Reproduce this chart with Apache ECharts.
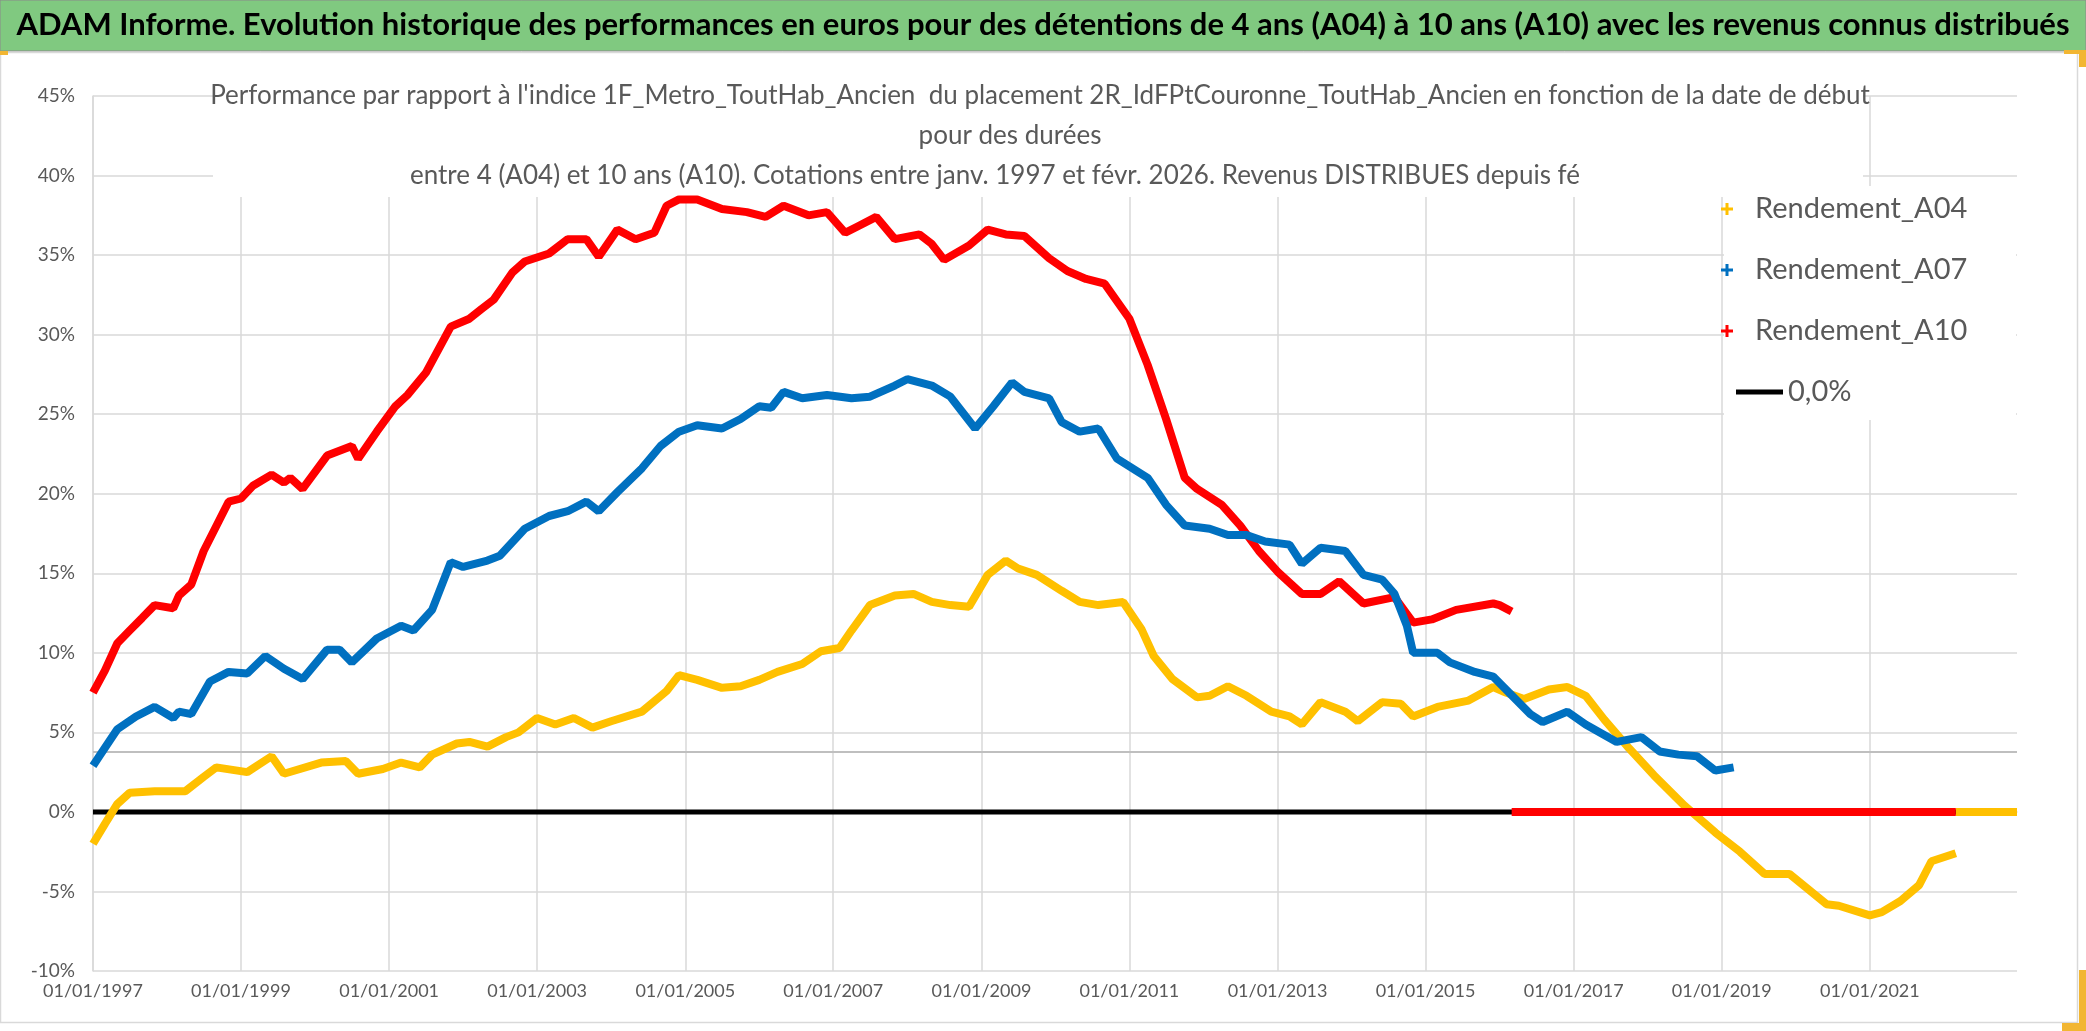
<!DOCTYPE html>
<html><head><meta charset="utf-8">
<script src="https://cdn.jsdelivr.net/npm/echarts@6/dist/echarts.min.js"></script>
<style>html,body{margin:0;padding:0;background:#fff;overflow:hidden}#c{width:2086px;height:1031px}</style>
</head><body><div id="c"></div>
<script>
const mainTitle = "ADAM Informe. Evolution historique des performances en euros pour des détentions de 4 ans (A04) à 10 ans (A10) avec les revenus connus distribués";
const subTitle1 = "Performance par rapport à l'indice 1F_Metro_ToutHab_Ancien  du placement 2R_IdFPtCouronne_ToutHab_Ancien en fonction de la date de début";
const subTitle2 = "pour des durées";
const subTitle3 = "entre 4 (A04) et 10 ans (A10). Cotations entre janv. 1997 et févr. 2026. Revenus DISTRIBUES depuis fé";

const seriesNames = ['Rendement_A04', 'Rendement_A07', 'Rendement_A10', '0,0%'];
const xTickLabels = ['01/01/1997','01/01/1999','01/01/2001','01/01/2003','01/01/2005','01/01/2007','01/01/2009','01/01/2011','01/01/2013','01/01/2015','01/01/2017','01/01/2019','01/01/2021'];
const xMin = '1997-01-01';
const xMax = '2022-12-28';

const datesA04 = ['1997-01','1997-03','1997-05','1997-07','1997-11','1998-04','1998-07','1998-09','1999-02','1999-06','1999-08','2000-02','2000-06','2000-08','2000-12','2001-03','2001-06','2001-08','2001-12','2002-02','2002-05','2002-08','2002-10','2003-01','2003-04','2003-07','2003-10','2004-01','2004-06','2004-10','2004-12','2005-03','2005-07','2005-10','2006-01','2006-04','2006-08','2006-11','2007-02','2007-04','2007-07','2007-11','2008-02','2008-05','2008-08','2008-11','2009-02','2009-05','2009-07','2009-10','2010-02','2010-05','2010-08','2010-12','2011-03','2011-05','2011-08','2011-12','2012-02','2012-05','2012-08','2012-12','2013-03','2013-05','2013-08','2013-12','2014-02','2014-06','2014-09','2014-11','2015-03','2015-08','2015-12','2016-02','2016-05','2016-09','2016-12','2017-03','2017-06','2017-10','2018-02','2018-07','2018-12','2019-04','2019-08','2019-12','2020-06','2020-08','2021-01','2021-03','2021-06','2021-09','2021-11','2022-03','2022-03','2022-03','2022-12-28'];
const valuesA04 = [-2.0,-0.75,0.5,1.2,1.3,1.3,2.2,2.8,2.5,3.5,2.4,3.1,3.2,2.4,2.7,3.1,2.8,3.6,4.3,4.4,4.1,4.7,5.0,5.9,5.5,5.9,5.3,5.7,6.3,7.6,8.6,8.3,7.8,7.9,8.3,8.8,9.3,10.1,10.3,11.4,13.0,13.6,13.7,13.2,13.0,12.9,14.9,15.8,15.3,14.9,13.9,13.2,13.0,13.2,11.5,9.8,8.35,7.2,7.3,7.9,7.3,6.3,6.0,5.5,6.9,6.3,5.7,6.9,6.8,6.0,6.6,7.0,7.85,7.5,7.1,7.7,7.85,7.3,5.8,4.0,2.3,0.4,-1.3,-2.5,-3.9,-3.9,-5.8,-5.9,-6.5,-6.3,-5.6,-4.6,-3.1,-2.6,null,0,0];

const datesA07 = ['1997-01','1997-02','1997-05','1997-08','1997-11','1998-02','1998-03','1998-05','1998-08','1998-11','1999-02','1999-05','1999-08','1999-11','2000-03','2000-05','2000-07','2000-11','2001-03','2001-05','2001-08','2001-11','2002-01','2002-05','2002-07','2002-11','2003-03','2003-06','2003-09','2003-11','2004-02','2004-06','2004-09','2004-12','2005-03','2005-07','2005-10','2006-01','2006-03','2006-05','2006-08','2006-12','2007-04','2007-07','2007-11','2008-01','2008-05','2008-08','2008-12','2009-03','2009-06','2009-08','2009-12','2010-02','2010-05','2010-08','2010-11','2011-04','2011-07','2011-10','2012-02','2012-05','2012-08','2012-11','2013-03','2013-05','2013-08','2013-12','2014-03','2014-06','2014-08','2014-10','2014-11','2015-03','2015-05','2015-09','2015-12','2016-06','2016-08','2016-12','2017-03','2017-08','2017-12','2018-03','2018-06','2018-09','2018-12','2019-03'];
const valuesA07 = [2.9,3.5,5.2,6.0,6.6,5.9,6.3,6.15,8.2,8.8,8.7,9.8,9.0,8.35,10.2,10.2,9.4,10.9,11.7,11.4,12.7,15.7,15.4,15.8,16.1,17.8,18.6,18.9,19.5,18.9,20.1,21.6,23.0,23.9,24.3,24.1,24.7,25.5,25.4,26.4,26.0,26.2,26.0,26.1,26.8,27.2,26.8,26.1,24.1,25.5,27.0,26.4,26.0,24.5,23.9,24.1,22.2,21.0,19.3,18.0,17.8,17.4,17.4,17.0,16.8,15.6,16.6,16.4,14.9,14.6,13.7,11.7,10.0,10.0,9.4,8.8,8.5,6.15,5.65,6.3,5.5,4.4,4.7,3.8,3.6,3.5,2.6,2.8];

const datesA10 = ['1997-01','1997-03','1997-05','1997-07','1997-09','1997-11','1998-02','1998-03','1998-05','1998-07','1998-11','1999-01','1999-03','1999-06','1999-08','1999-09','1999-11','2000-03','2000-07','2000-08','2000-11','2001-02','2001-04','2001-07','2001-11','2002-02','2002-04','2002-06','2002-09','2002-11','2003-03','2003-06','2003-09','2003-11','2004-02','2004-05','2004-08','2004-10','2004-12','2005-03','2005-07','2005-11','2006-02','2006-05','2006-09','2006-12','2007-03','2007-05','2007-08','2007-11','2008-03','2008-05','2008-07','2008-11','2009-02','2009-05','2009-08','2009-12','2010-03','2010-06','2010-09','2011-01','2011-04','2011-07','2011-10','2011-12','2012-04','2012-07','2012-10','2013-01','2013-05','2013-08','2013-11','2014-03','2014-08','2014-11','2015-02','2015-06','2015-12','2016-01','2016-03','2016-03','2016-03','2022-03'];
const valuesA10 = [7.5,8.9,10.6,11.4,12.2,13.0,12.8,13.6,14.3,16.4,19.5,19.7,20.5,21.2,20.7,21.0,20.3,22.4,23.0,22.2,23.9,25.5,26.2,27.6,30.5,31.0,31.6,32.2,33.9,34.6,35.1,36.0,36.0,34.9,36.6,36.0,36.4,38.1,38.5,38.5,37.9,37.7,37.4,38.1,37.5,37.7,36.4,36.8,37.4,36.0,36.3,35.7,34.7,35.6,36.6,36.3,36.2,34.8,34.0,33.5,33.2,31.0,28.1,24.7,21.0,20.3,19.3,18.0,16.4,15.1,13.7,13.7,14.5,13.1,13.5,11.9,12.1,12.7,13.1,13.0,12.6,null,0,0];

const datesZero = ['1997-01-01','2022-12-28'];
const valuesZero = [0, 0];
const datesRef = ['1997-01-01','2022-12-28'];
const valuesRef = [3.77, 3.77];

const colors = ['#FFC000', '#0070C0', '#FF0000', '#000000'];
const FONT = 'Lato, "Open Sans", sans-serif';
const TXT = '#595959';

function toTime(s) { const p = s.split('-'); return new Date(+p[0], (+p[1] || 1) - 1, +(p[2] || 1)).getTime(); }
function pairs(d, v) { return d.map((x, i) => [toTime(x), v[i]]); }
function labelToTime(s) { const p = s.split('/'); return new Date(+p[2], +p[1] - 1, +p[0]).getTime(); }
function pad(n) { return n < 10 ? '0' + n : '' + n; }
const tickValues = xTickLabels.map(labelToTime);
const plus = 'path://M4.5,0H7.5V4.5H12V7.5H7.5V12H4.5V7.5H0V4.5H4.5Z';

const chart = echarts.init(document.getElementById('c'), null, {renderer: 'canvas'});
chart.setOption({
  animation: false,
  backgroundColor: '#ffffff',
  graphic: [
    {type: 'rect', silent: true, z: 0, shape: {x: 0, y: 0, width: 2086, height: 51}, style: {fill: '#80C980', stroke: '#8a8a8a', lineWidth: 1}},
    {type: 'rect', silent: true, z: 0, shape: {x: 0.5, y: 52.5, width: 2077, height: 970}, style: {fill: 'none', stroke: '#d9d9d9', lineWidth: 1.5}},
    {type: 'rect', silent: true, z: 3, shape: {x: 213, y: 74, width: 1650, height: 123}, style: {fill: '#ffffff'}},
    {type: 'rect', silent: true, z: 3, shape: {x: 1724, y: 186, width: 292, height: 234}, style: {fill: '#ffffff'}},
    {type: 'rect', silent: true, z: 10, shape: {x: 0, y: 51, width: 8, height: 4}, style: {fill: '#F2B632'}},
    {type: 'rect', silent: true, z: 10, shape: {x: 2064, y: 50, width: 22, height: 4}, style: {fill: '#F2B632'}},
    {type: 'rect', silent: true, z: 10, shape: {x: 2079, y: 50, width: 7, height: 17}, style: {fill: '#F2B632'}},
    {type: 'rect', silent: true, z: 10, shape: {x: 2079, y: 970, width: 7, height: 61}, style: {fill: '#F2B632'}},
    {type: 'rect', silent: true, z: 10, shape: {x: 2062, y: 1023, width: 24, height: 8}, style: {fill: '#F2B632'}}
  ],
  title: [
    {text: mainTitle, left: 'center', top: 6, padding: 0, textStyle: {fontFamily: FONT, fontWeight: 'bold', fontSize: 31, color: '#000000', lineHeight: 38}},
    {text: subTitle1, left: 1040, textAlign: 'center', top: 81, padding: 0, textStyle: {fontFamily: FONT, fontWeight: 'normal', fontSize: 26, color: TXT, lineHeight: 30}},
    {text: subTitle2, left: 1010, textAlign: 'center', top: 121, padding: 0, textStyle: {fontFamily: FONT, fontWeight: 'normal', fontSize: 26, color: TXT, lineHeight: 30}},
    {text: subTitle3, left: 995, textAlign: 'center', top: 161, padding: 0, textStyle: {fontFamily: FONT, fontWeight: 'normal', fontSize: 26, color: TXT, lineHeight: 30}}
  ],
  legend: [
    {orient: 'vertical', left: 1721, top: 193, padding: 0, itemWidth: 46, itemHeight: 12, itemGap: 29, selectedMode: false,
     data: [{name: seriesNames[0], icon: plus}, {name: seriesNames[1], icon: plus}, {name: seriesNames[2], icon: plus}],
     textStyle: {fontFamily: FONT, fontSize: 29, color: TXT, lineHeight: 32}},
    {orient: 'vertical', left: 1736, top: 376, padding: 0, itemWidth: 47, itemHeight: 5, selectedMode: false,
     data: [{name: seriesNames[3], icon: 'rect'}],
     textStyle: {fontFamily: FONT, fontSize: 29, color: TXT, lineHeight: 32}}
  ],
  grid: {left: 93, right: 69, top: 96, bottom: 60, containLabel: false},
  xAxis: {
    type: 'value', min: toTime(xMin), max: toTime(xMax),
    axisLine: {show: true, lineStyle: {color: '#d9d9d9', width: 1.5}},
    axisTick: {show: false, customValues: tickValues},
    splitLine: {show: true, lineStyle: {color: '#d9d9d9', width: 1.5}},
    axisLabel: {customValues: tickValues, margin: 11, fontFamily: FONT, fontSize: 18, color: TXT,
      formatter: function (v) { const d = new Date(v); return pad(d.getDate()) + '/' + pad(d.getMonth() + 1) + '/' + d.getFullYear(); }}
  },
  yAxis: {
    type: 'value', min: -10, max: 45, interval: 5,
    axisLine: {show: true, lineStyle: {color: '#d9d9d9', width: 1.5}},
    axisTick: {show: false},
    splitLine: {show: true, lineStyle: {color: '#d9d9d9', width: 1.5}},
    axisLabel: {formatter: '{value}%', margin: 18, fontFamily: FONT, fontSize: 19, color: TXT}
  },
  series: [
    {name: 'ref', type: 'line', z: 1, symbol: 'none', silent: true, data: pairs(datesRef, valuesRef), lineStyle: {color: '#bfbfbf', width: 2}},
    {name: seriesNames[3], type: 'line', z: 2, symbol: 'none', data: pairs(datesZero, valuesZero), itemStyle: {color: colors[3]}, lineStyle: {color: colors[3], width: 5}},
    {name: seriesNames[0], type: 'line', z: 3, symbol: 'none', connectNulls: false, data: pairs(datesA04, valuesA04), itemStyle: {color: colors[0]}, lineStyle: {color: colors[0], width: 8}},
    {name: seriesNames[2], type: 'line', z: 4, symbol: 'none', connectNulls: false, data: pairs(datesA10, valuesA10), itemStyle: {color: colors[2]}, lineStyle: {color: colors[2], width: 8}},
    {name: seriesNames[1], type: 'line', z: 5, symbol: 'none', data: pairs(datesA07, valuesA07), itemStyle: {color: colors[1]}, lineStyle: {color: colors[1], width: 8}}
  ]
});
</script></body></html>
